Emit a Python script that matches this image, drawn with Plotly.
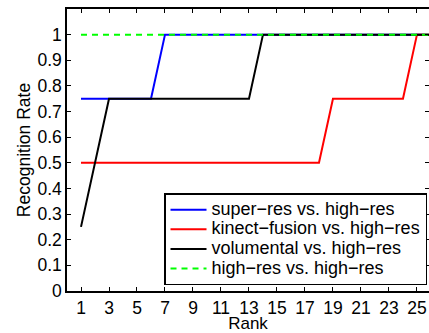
import plotly.graph_objects as go

ranks = list(range(1, 27))
super_res = [0.75]*6 + [1.0]*20
kinect = [0.5]*18 + [0.75]*6 + [1.0]*2
volumental = [0.25, 0.5] + [0.75]*11 + [1.0]*13
highres = [1.0]*26

names = ["super\u2212res vs. high\u2212res", "kinect\u2212fusion vs. high\u2212res",
         "volumental vs. high\u2212res", "high\u2212res vs. high\u2212res"]
x_ticks = list(range(1, 26, 2))
y_ticks = [round(0.1*i, 1) for i in range(11)]
y_labels = ["0", "0.1", "0.2", "0.3", "0.4", "0.5", "0.6", "0.7", "0.8", "0.9", "1"]

def big(t):
    return '<span style="font-size:18px">' + t + '</span>'

fig = go.Figure()
fig.add_trace(go.Scatter(x=ranks, y=super_res, mode="lines", name=big(names[0]), line=dict(color="#0000ff", width=2)))
fig.add_trace(go.Scatter(x=ranks, y=kinect, mode="lines", name=big(names[1]), line=dict(color="#ff0000", width=2)))
fig.add_trace(go.Scatter(x=ranks, y=volumental, mode="lines", name=big(names[2]), line=dict(color="#000000", width=2)))
fig.add_trace(go.Scatter(x=ranks, y=highres, mode="lines", name=big(names[3]), line=dict(color="#00ff00", width=2, dash="6px,5px")))

font = "Liberation Sans, Arial, Helvetica, sans-serif"
fig.update_layout(
    width=429, height=333,
    margin=dict(l=67, r=0, t=9, b=42, autoexpand=False),
    paper_bgcolor="white", plot_bgcolor="white",
    font=dict(family=font, size=17.5, color="black"),
    showlegend=True,
    legend=dict(x=0.9945, y=0.02, xanchor="right", yanchor="bottom",
                bgcolor="white", bordercolor="black", borderwidth=1.5,
                font=dict(size=12.8), tracegroupgap=0, itemwidth=36),
    xaxis=dict(range=[0, 25.86], tickvals=x_ticks, ticks="inside", ticklen=4, tickcolor="black",
               showline=True, linecolor="black", linewidth=1.5, mirror="ticks", showgrid=False, zeroline=False,
               tickfont=dict(size=17.5), ticklabelstandoff=0,
               title=dict(text="Rank", standoff=3, font=dict(size=17))),
    yaxis=dict(range=[0, 1.1], tickvals=y_ticks, ticktext=y_labels, ticks="inside", ticklen=4, tickcolor="black",
               showline=True, linecolor="black", linewidth=1.5, mirror="ticks", showgrid=False, zeroline=False,
               tickfont=dict(size=17.5),
               title=dict(text="Recognition Rate", standoff=2, font=dict(size=17.5))),
)
fig.write_html("out.html")
